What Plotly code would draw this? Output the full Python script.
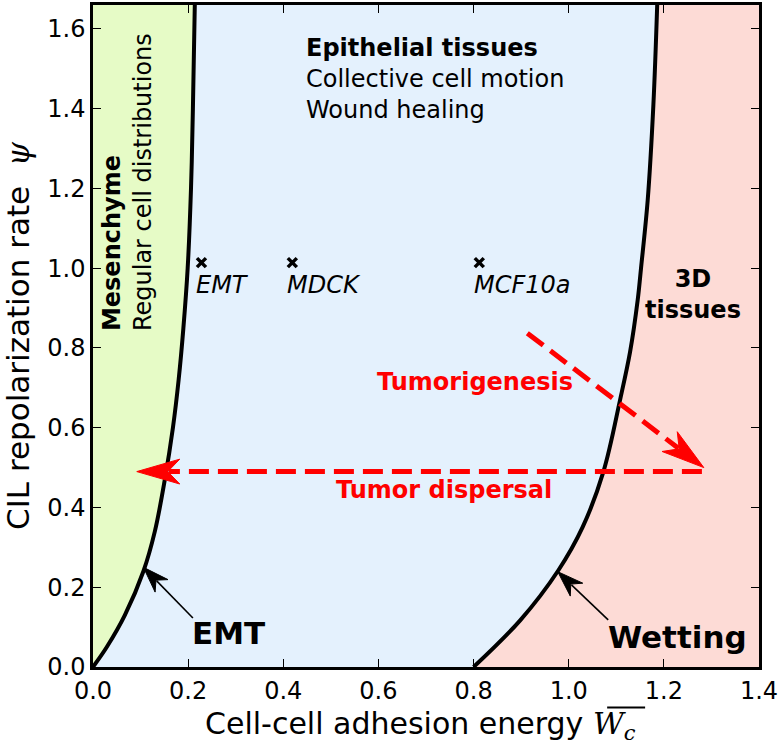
import math
import plotly.graph_objects as go

# ---------------- data ----------------
X_RANGE = [0.0, 1.4]
Y_RANGE = [0.0, 1.66]
x_ticks = [0.0, 0.2, 0.4, 0.6, 0.8, 1.0, 1.2, 1.4]
x_tick_labels = ["0.0", "0.2", "0.4", "0.6", "0.8", "1.0", "1.2", "1.4"]
y_ticks = [0.0, 0.2, 0.4, 0.6, 0.8, 1.0, 1.2, 1.4, 1.6]
y_tick_labels = ["0.0", "0.2", "0.4", "0.6", "0.8", "1.0", "1.2", "1.4", "1.6"]

# EMT boundary (mesenchyme / epithelium)
psi_emt = [0.0, 0.05, 0.13, 0.24, 0.34, 0.47, 0.60, 0.72, 0.85, 1.0, 1.2, 1.4, 1.66]
w_emt = [0.0, 0.029, 0.067, 0.106, 0.130, 0.151, 0.168, 0.180, 0.190, 0.199, 0.206, 0.210, 0.214]

# Wetting boundary (epithelium / 3D tissues)
psi_wet = [0.0, 0.117, 0.242, 0.35, 0.49, 0.67, 0.79, 0.92, 1.0, 1.17, 1.41, 1.66]
w_wet = [0.80, 0.898, 0.978, 1.029, 1.073, 1.108, 1.129, 1.145, 1.152, 1.166, 1.178, 1.186]

# cell lines
cell_names = ["EMT", "MDCK", "MCF10a"]
cell_w = [0.228, 0.419, 0.812]
cell_psi = [1.014, 1.014, 1.014]

# arrows (tail -> tip)
tumorigenesis_tail = (0.913, 0.837)
tumorigenesis_tip = (1.284, 0.500)
dispersal_tail = (1.280, 0.490)
dispersal_tip = (0.092, 0.490)
emt_arrow_tail = (0.210, 0.123)
emt_arrow_tip = (0.106, 0.250)
wet_arrow_tail = (1.083, 0.118)
wet_arrow_tip = (0.977, 0.239)

# ---------------- style ----------------
W, H = 784, 744
ML, MR, MT, MB = 93, 25, 2, 77
PW, PH = W - ML - MR, H - MT - MB
PX_X = PW / (X_RANGE[1] - X_RANGE[0])
PX_Y = PH / (Y_RANGE[1] - Y_RANGE[0])

GREEN = "#e6fbc6"
BLUE = "#e4f1fd"
PINK = "#fddbd6"
RED = "#ff0000"
FONT = "DejaVu Sans"

fig = go.Figure()

# region fills
fig.add_trace(go.Scatter(
    x=w_emt + [X_RANGE[0]], y=psi_emt + [Y_RANGE[1]],
    fill="toself", fillcolor=GREEN, mode="none", hoverinfo="skip", showlegend=False))
fig.add_trace(go.Scatter(
    x=w_emt + w_wet[::-1], y=psi_emt + psi_wet[::-1],
    fill="toself", fillcolor=BLUE, mode="none", hoverinfo="skip", showlegend=False))
fig.add_trace(go.Scatter(
    x=w_wet + [X_RANGE[1], X_RANGE[1]], y=psi_wet + [Y_RANGE[1], Y_RANGE[0]],
    fill="toself", fillcolor=PINK, mode="none", hoverinfo="skip", showlegend=False))

# boundary curves
for xs, ys in [(w_emt, psi_emt), (w_wet, psi_wet)]:
    fig.add_trace(go.Scatter(x=xs, y=ys, mode="lines",
                             line=dict(color="black", width=4, shape="spline", smoothing=1.0),
                             hoverinfo="skip", showlegend=False))


def arrow(tail, tip, color, width, dash, L, hw, notch):
    tx, ty = tip[0] * PX_X, tip[1] * PX_Y
    sx, sy = tail[0] * PX_X, tail[1] * PX_Y
    dx, dy = tx - sx, ty - sy
    d = math.hypot(dx, dy)
    ux, uy = dx / d, dy / d
    nx, ny = -uy, ux
    pts = [
        (tx, ty),
        (tx - L * ux + hw * nx, ty - L * uy + hw * ny),
        (tx - notch * ux, ty - notch * uy),
        (tx - L * ux - hw * nx, ty - L * uy - hw * ny),
        (tx, ty),
    ]
    end = (tx - (notch + 1) * ux, ty - (notch + 1) * uy)
    fig.add_trace(go.Scatter(
        x=[tail[0], end[0] / PX_X], y=[tail[1], end[1] / PX_Y], mode="lines",
        line=dict(color=color, width=width, dash=dash),
        hoverinfo="skip", showlegend=False))
    fig.add_trace(go.Scatter(
        x=[p[0] / PX_X for p in pts], y=[p[1] / PX_Y for p in pts],
        mode="lines", fill="toself", fillcolor=color,
        line=dict(color=color, width=1), hoverinfo="skip", showlegend=False))


arrow(tumorigenesis_tail, tumorigenesis_tip, RED, 5, "20px,9px", 43, 12.5, 31)
arrow(dispersal_tail, dispersal_tip, RED, 5, "20px,9px", 43, 12.5, 31)
arrow(emt_arrow_tail, emt_arrow_tip, "black", 1.6, "solid", 26, 9, 18)
arrow(wet_arrow_tail, wet_arrow_tip, "black", 1.6, "solid", 26, 9, 18)

# cell-line markers
fig.add_trace(go.Scatter(
    x=cell_w, y=cell_psi, mode="markers",
    marker=dict(symbol="x-thin", size=9, line=dict(color="black", width=3.5)),
    hoverinfo="skip", showlegend=False))

annotations = []
for name, xw, yp in zip(cell_names, cell_w, cell_psi):
    annotations.append(dict(x=xw, y=yp, text="<i>" + name + "</i>", showarrow=False,
                            xanchor="left", yanchor="middle", xshift=-7, yshift=-22,
                            font=dict(family=FONT, size=24, color="black")))

annotations += [
    dict(x=0.443, y=1.475, text="<b>Epithelial tissues</b><br>Collective cell motion<br>Wound healing",
         showarrow=False, xanchor="left", yanchor="middle", align="left",
         font=dict(family=FONT, size=24, color="black")),
    dict(x=0.0715, y=1.216, text="<b>Mesenchyme</b><br>Regular cell distributions",
         showarrow=False, xanchor="center", yanchor="middle", align="left", textangle=-90,
         font=dict(family=FONT, size=24, color="black")),
    dict(x=1.262, y=0.934, text="<b>3D<br>tissues</b>", showarrow=False,
         xanchor="center", yanchor="middle", align="center",
         font=dict(family=FONT, size=24, color="black")),
    dict(x=0.802, y=0.714, text="<b>Tumorigenesis</b>", showarrow=False,
         xanchor="center", yanchor="middle", font=dict(family=FONT, size=24, color=RED)),
    dict(x=0.737, y=0.445, text="<b>Tumor dispersal</b>", showarrow=False,
         xanchor="center", yanchor="middle", font=dict(family=FONT, size=24, color=RED)),
    dict(x=0.285, y=0.086, text="<b>EMT</b>", showarrow=False,
         xanchor="center", yanchor="middle", font=dict(family=FONT, size=31, color="black")),
    dict(x=1.228, y=0.076, text="<b>Wetting</b>", showarrow=False,
         xanchor="center", yanchor="middle", font=dict(family=FONT, size=31, color="black")),
    # axis titles
    dict(xref="paper", yref="paper", x=0, y=0.5, xshift=-75, textangle=-90,
         text="CIL repolarization rate  <span style='font-family:DejaVu Serif'><i>ψ</i></span>",
         showarrow=False, xanchor="center", yanchor="middle",
         font=dict(family=FONT, size=31, color="black")),
    dict(xref="paper", yref="paper", x=0.5, y=0, xshift=-6, yshift=-58,
         text="Cell-cell adhesion energy <span style='font-family:DejaVu Serif'><i>W</i><sub><i>c</i></sub></span>",
         showarrow=False, xanchor="center", yanchor="middle",
         font=dict(family=FONT, size=30, color="black")),
]

axis_common = dict(showline=True, linecolor="black", linewidth=2.5, mirror="ticks",
                   ticks="inside", ticklen=8, tickwidth=1.3, tickcolor="black",
                   showgrid=False, zeroline=False,
                   tickfont=dict(family=FONT, size=24, color="black"))

fig.update_layout(
    width=W, height=H,
    margin=dict(l=ML, r=MR, t=MT, b=MB),
    paper_bgcolor="white", plot_bgcolor="white",
    xaxis=dict(range=X_RANGE, tickvals=x_ticks, ticktext=x_tick_labels, **axis_common),
    yaxis=dict(range=Y_RANGE, tickvals=y_ticks, ticktext=y_tick_labels, **axis_common),
    annotations=annotations,
    shapes=[dict(type="line", xref="paper", yref="paper", x0=0.772, x1=0.829, y0=-0.061, y1=-0.061,
                 line=dict(color="black", width=2))],
)

fig.write_html("out.html", config={"displayModeBar": False},
               post_script="document.body.style.margin='0';document.body.style.overflow='hidden';")
